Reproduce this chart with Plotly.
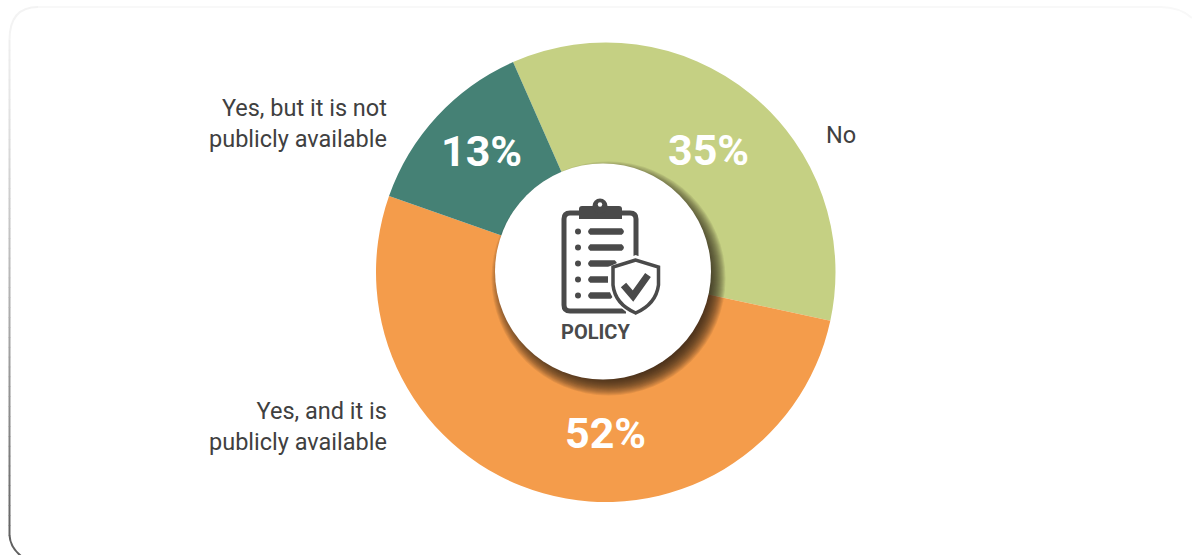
import plotly.graph_objects as go

W, H = 1192, 555

# Survey shares
categories = ["No", "Yes, and it is<br>publicly available", "Yes, but it is not<br>publicly available"]
values = [35, 52, 13]
colors = ["#c5d083", "#f49c4b", "#458175"]
value_label_xy = [(708, 150), (605, 433), (481, 151)]
category_label_xy = [(824, 135, "left"), (388.5, 426, "right"), (388.5, 123, "right")]

INK = "#4a4a4a"
shapes = []


def add(**kw):
    shapes.append(dict(xref="x", yref="y", layer="above", **kw))


def circle(cx, cy, r, fill, opacity=1.0):
    add(type="circle", x0=cx - r, x1=cx + r, y0=cy - r, y1=cy + r,
        fillcolor=fill, opacity=opacity, line=dict(width=0))


def pill(x0, x1, y, h, color=INK):
    # Bar with rounded ends, built from two quadratic caps
    r = h / 2
    add(type="path",
        path=f"M {x0 + r} {y - r} L {x1 - r} {y - r} Q {x1 + r * 0.35} {y} {x1 - r} {y + r} "
             f"L {x0 + r} {y + r} Q {x0 - r * 0.35} {y} {x0 + r} {y - r} Z",
        fillcolor=color, line=dict(width=0))


# Card outline, fading from near-white at the top to dark grey at the bottom
shapes.append(dict(type="path", xref="x", yref="y", layer="below",
                   path="M 38 7 L 1160 7 Q 1180 7 1192 18",
                   line=dict(color="#f8f8f8", width=2)))
shapes.append(dict(type="path", xref="x", yref="y", layer="below",
                   path="M 9.5 40 Q 9.5 7 38 7",
                   line=dict(color="#f3f3f3", width=2)))
n_steps = 50
for i in range(n_steps):
    t = i / (n_steps - 1)
    g = int(238 - (238 - 100) * t ** 1.25)
    y0 = 40 + i * (535 - 40) / n_steps
    y1 = 40 + (i + 1) * (535 - 40) / n_steps + 0.5
    shapes.append(dict(type="line", xref="x", yref="y", layer="below", x0=9.5, x1=9.5, y0=y0, y1=y1,
                       line=dict(color=f"rgb({g},{g},{g})", width=2)))
shapes.append(dict(type="path", xref="x", yref="y", layer="below",
                   path="M 9.5 535 Q 10 547 21 556",
                   line=dict(color="#606060", width=2)))

# Soft shadow behind the centre disc
for r in range(117, 99, -1):
    circle(608.5, 278.5, r, "#2e2415", 0.09)

# Centre disc
circle(603, 271.5, 108, "#ffffff")

# Clipboard body
add(type="path",
    path="M 636 256 L 636 219 Q 636 213 630 213 L 570 213 Q 564 213 564 219 L 564 305 "
         "Q 564 311 570 311 L 626 311",
    line=dict(color=INK, width=5))
# Clip with its knob
add(type="path", path="M 582 206 L 619 206 Q 622 206 622 209 L 622 219 L 579 219 L 579 209 Q 579 206 582 206 Z",
    fillcolor=INK, line=dict(width=0))
circle(600, 206, 7.5, INK)
circle(600, 204.5, 2.2, "#ffffff")

# Checklist rows
row_ys = [231.5, 247.5, 263.5, 279.5, 295.5]
row_ends = [625, 625, 618, 612, 614]
for y, end in zip(row_ys, row_ends):
    circle(578, y, 3, INK)
    pill(587, end, y, 6.5)

# Shield with its tick
shield = "M 635.7 {t} L {l} 267 L {l} 285 Q {l2} 304 635.7 {b} Q {r2} 304 {r} 285 L {r} 267 Z"
add(type="path", path=shield.format(t=255, l=608, l2=611, b=318, r2=661, r=664),
    fillcolor="#ffffff", line=dict(width=0))
add(type="path", path=shield.format(t=260, l=613, l2=615, b=313, r2=656, r=658.5),
    fillcolor="#ffffff", line=dict(color=INK, width=3.5))
add(type="path", path="M 623.5 285 L 633 296 L 648 275",
    line=dict(color=INK, width=7))

annotations = []
for (x, y), v in zip(value_label_xy, values):
    annotations.append(dict(x=x, y=y, xref="x", yref="y", text=f"<b>{v}%</b>", showarrow=False,
                            font=dict(family="Roboto", size=43, color="#ffffff"),
                            xanchor="center", yanchor="middle"))
for (x, y, side), name in zip(category_label_xy, categories):
    annotations.append(dict(x=x, y=y, xref="x", yref="y", text=name, showarrow=False, align=side,
                            font=dict(family="Roboto", size=23.5, color="#404040"),
                            xanchor=side, yanchor="middle"))
annotations.append(dict(x=595.5, y=331.5, xref="x", yref="y", text="<b>POLICY</b>", showarrow=False,
                        font=dict(family="Roboto", size=20, color=INK),
                        xanchor="center", yanchor="middle"))

pie = go.Pie(labels=categories, values=values, sort=False, direction="clockwise", rotation=336.2,
             marker=dict(colors=colors, line=dict(width=0)), textinfo="none", hole=0.4,
             showlegend=False, hoverinfo="label+percent",
             domain=dict(x=[376 / W, 835.5 / W], y=[1 - 502 / H, 1 - 42.5 / H]))

fig = go.Figure(pie)
fig.update_layout(
    width=W, height=H, margin=dict(l=0, r=0, t=0, b=0),
    paper_bgcolor="#ffffff", plot_bgcolor="rgba(0,0,0,0)",
    xaxis=dict(range=[0, W], visible=False, fixedrange=True),
    yaxis=dict(range=[H, 0], visible=False, fixedrange=True),
    shapes=shapes, annotations=annotations,
)
# An invisible cartesian trace keeps the pixel-aligned axes active for the overlays
fig.add_trace(go.Scatter(x=[0, W], y=[0, H], mode="markers", marker=dict(opacity=0),
                         hoverinfo="skip", showlegend=False))
fig.write_html("out.html", config=dict(displayModeBar=False))
